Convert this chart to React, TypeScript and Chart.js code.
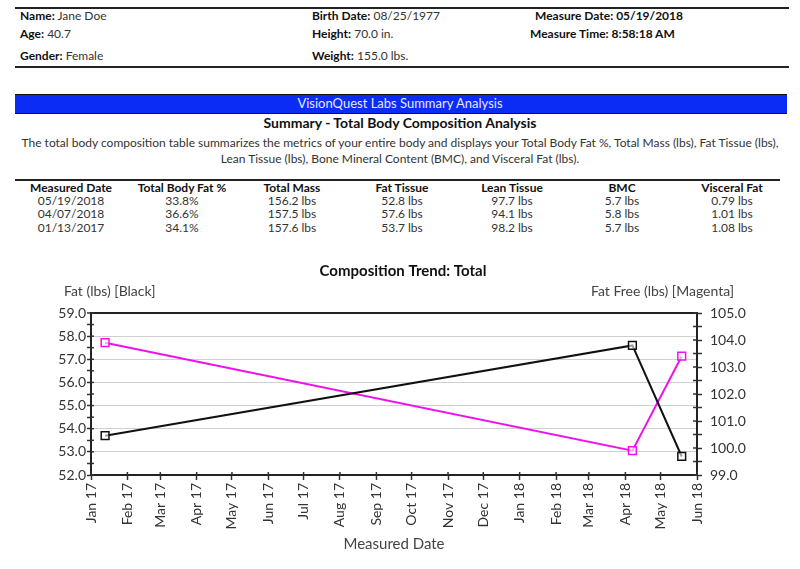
import React, { useEffect, useRef } from 'react';
import { Chart, registerables } from 'chart.js';

Chart.register(...registerables);

const FONT = 'Lato, "Open Sans", sans-serif';

// ---- header info ----
const patientLeft = [
  ['Name:', 'Jane Doe'],
  ['Age:', '40.7'],
  ['Gender:', 'Female'],
];
const patientMid = [
  ['Birth Date:', '08/25/1977'],
  ['Height:', '70.0 in.'],
  ['Weight:', '155.0 lbs.'],
];
const measureInfo = ['Measure Date: 05/19/2018', 'Measure Time: 8:58:18 AM'];

// ---- table data ----
const tableHeaders = ['Measured Date', 'Total Body Fat %', 'Total Mass', 'Fat Tissue', 'Lean Tissue', 'BMC', 'Visceral Fat'];
const tableDates = ['05/19/2018', '04/07/2018', '01/13/2017'];
const totalBodyFat = ['33.8%', '36.6%', '34.1%'];
const totalMass = ['156.2', '157.5', '157.6'];
const fatTissue = ['52.8', '57.6', '53.7'];
const leanTissue = ['97.7', '94.1', '98.2'];
const bmc = ['5.7', '5.8', '5.7'];
const visceralFat = ['0.79', '1.01', '1.08'];

// ---- chart data ----
const measuredDates = ['2017-01-13', '2018-04-07', '2018-05-19'];
const fatLbs = [53.7, 57.6, 52.8];
const fatFreeLbs = [103.9, 99.9, 103.4];
const monthTickDates = [
  '2017-01-01', '2017-02-01', '2017-03-01', '2017-04-01', '2017-05-01', '2017-06-01',
  '2017-07-01', '2017-08-01', '2017-09-01', '2017-10-01', '2017-11-01', '2017-12-01',
  '2018-01-01', '2018-02-01', '2018-03-01', '2018-04-01', '2018-05-01', '2018-06-01',
];
const monthTickLabels = [
  'Jan 17', 'Feb 17', 'Mar 17', 'Apr 17', 'May 17', 'Jun 17', 'Jul 17', 'Aug 17', 'Sep 17',
  'Oct 17', 'Nov 17', 'Dec 17', 'Jan 18', 'Feb 18', 'Mar 18', 'Apr 18', 'May 18', 'Jun 18',
];
const leftAxisRange = [52, 59];
const rightAxisRange = [99, 105];

const ts = (s: string) => Date.parse(s + 'T00:00:00Z');
const tickVals = monthTickDates.map(ts);
const isInt = (v: number) => Math.abs(v - Math.round(v)) < 1e-6;

const colCenters = [71, 182, 292, 402, 512, 622, 732];

function Txt(props: any) {
  const { x, y, w, align, size, bold, color, children } = props;
  const s = size || 12;
  const lh = s + 4;
  let left = x;
  if (align === 'center') left = x - (w || 300) / 2;
  return (
    <div
      style={{
        position: 'absolute',
        left,
        top: y - lh / 2,
        width: align === 'center' ? w || 300 : undefined,
        textAlign: align || 'left',
        fontSize: s,
        lineHeight: lh + 'px',
        fontWeight: bold ? 700 : 400,
        color: color || '#333',
        whiteSpace: 'nowrap',
      }}
    >
      {children}
    </div>
  );
}

const overlayPlugin = {
  id: 'overlay',
  afterDraw(chart: any) {
    const { ctx, chartArea } = chart;
    ctx.save();
    ctx.fillStyle = '#111';
    ctx.textBaseline = 'middle';
    ctx.font = `700 15px ${FONT}`;
    ctx.textAlign = 'center';
    ctx.fillText('Composition Trend: Total', 403, 13);
    ctx.fillStyle = '#444';
    ctx.font = `400 14px ${FONT}`;
    ctx.textAlign = 'left';
    ctx.fillText('Fat (lbs) [Black]', 64, 33);
    ctx.textAlign = 'right';
    ctx.fillText('Fat Free (lbs) [Magenta]', 734, 33);
    // inner tick marks
    ctx.strokeStyle = '#333';
    ctx.lineWidth = 1.5;
    const ys = chart.scales.y;
    ys.ticks.forEach((t: any) => {
      const p = ys.getPixelForValue(t.value);
      ctx.beginPath();
      ctx.moveTo(chartArea.left, p);
      ctx.lineTo(chartArea.left + 3, p);
      ctx.stroke();
    });
    const y1 = chart.scales.y1;
    y1.ticks.forEach((t: any) => {
      const p = y1.getPixelForValue(t.value);
      ctx.beginPath();
      ctx.moveTo(chartArea.right - 4, p);
      ctx.lineTo(chartArea.right, p);
      ctx.stroke();
    });
    const xs = chart.scales.x;
    xs.ticks.forEach((t: any) => {
      const p = xs.getPixelForValue(t.value);
      ctx.beginPath();
      ctx.moveTo(p, chartArea.bottom - 3);
      ctx.lineTo(p, chartArea.bottom);
      ctx.stroke();
    });
    ctx.restore();
  },
};

function TrendChart() {
  const ref = useRef<HTMLCanvasElement | null>(null);
  useEffect(() => {
    if (!ref.current) return;
    const tickFont = { family: FONT, size: 14 };
    const chart = new Chart(ref.current, {
      type: 'line',
      data: {
        datasets: [
          {
            label: 'Fat (lbs)',
            data: measuredDates.map((d, i) => ({ x: ts(d), y: fatLbs[i] })),
            yAxisID: 'y',
            borderColor: '#111',
            borderWidth: 2,
            pointStyle: 'rect',
            pointRadius: 5.5,
            pointBorderWidth: 1.5,
            pointBorderColor: '#111',
            pointBackgroundColor: 'rgba(255,255,255,0.6)',
            tension: 0,
          },
          {
            label: 'Fat Free (lbs)',
            data: measuredDates.map((d, i) => ({ x: ts(d), y: fatFreeLbs[i] })),
            yAxisID: 'y1',
            borderColor: '#ee11ee',
            borderWidth: 2,
            pointStyle: 'rect',
            pointRadius: 5.5,
            pointBorderWidth: 1.5,
            pointBorderColor: '#ee11ee',
            pointBackgroundColor: 'rgba(255,255,255,0.6)',
            tension: 0,
          },
        ],
      } as any,
      options: {
        animation: false,
        responsive: false,
        maintainAspectRatio: false,
        layout: { padding: { top: 55, left: 0, right: 0, bottom: 0 } },
        plugins: {
          legend: { display: false },
          tooltip: { enabled: false },
          title: { display: false },
        },
        scales: {
          x: {
            type: 'linear',
            min: tickVals[0],
            max: tickVals[tickVals.length - 1],
            afterBuildTicks: (s: any) => {
              s.ticks = tickVals.map((v) => ({ value: v }));
            },
            afterFit: (s: any) => {
              s.height = 94;
            },
            ticks: {
              autoSkip: false,
              minRotation: 90,
              maxRotation: 90,
              padding: 3,
              color: '#333',
              font: tickFont,
              callback: (v: any) => {
                const i = tickVals.indexOf(Number(v));
                return i >= 0 ? monthTickLabels[i] : '';
              },
            },
            grid: { drawOnChartArea: false, drawTicks: true, tickLength: 5, tickColor: '#333', tickWidth: 1.5 },
            border: { color: '#222', width: 2 },
            title: {
              display: true,
              text: 'Measured Date',
              color: '#444',
              font: { family: FONT, size: 15 },
              padding: { top: 0, bottom: 16 },
            },
          },
          y: {
            position: 'left',
            min: leftAxisRange[0],
            max: leftAxisRange[1],
            afterFit: (s: any) => {
              s.width = 91;
            },
            ticks: {
              stepSize: 0.5,
              autoSkip: false,
              padding: 1,
              color: '#333',
              font: tickFont,
              callback: (v: any) => (isInt(Number(v)) ? Number(v).toFixed(1) : ''),
            },
            grid: {
              drawTicks: true,
              tickLength: 4,
              tickColor: '#333',
              tickWidth: 1.5,
              color: (c: any) => {
                const v = c.tick ? c.tick.value : 0;
                if (Math.abs(v - leftAxisRange[1]) < 1e-6) return '#222';
                return isInt(v) ? '#cfcfcf' : 'rgba(0,0,0,0)';
              },
              lineWidth: (c: any) => {
                const v = c.tick ? c.tick.value : 0;
                return Math.abs(v - leftAxisRange[1]) < 1e-6 ? 2 : 1;
              },
            },
            border: { color: '#222', width: 2 },
          },
          y1: {
            position: 'right',
            min: rightAxisRange[0],
            max: rightAxisRange[1],
            afterFit: (s: any) => {
              s.width = 103;
            },
            ticks: {
              stepSize: 0.5,
              autoSkip: false,
              padding: 8,
              color: '#333',
              font: tickFont,
              callback: (v: any) => (isInt(Number(v)) ? Number(v).toFixed(1) : ''),
            },
            grid: { drawOnChartArea: false, drawTicks: true, tickLength: 5, tickColor: '#333', tickWidth: 1.5 },
            border: { color: '#222', width: 2 },
          },
        },
      } as any,
      plugins: [overlayPlugin],
    });
    return () => chart.destroy();
  }, []);
  return (
    <canvas
      ref={ref}
      width={800}
      height={311}
      style={{ position: 'absolute', left: 0, top: 258, width: 800, height: 311 }}
    />
  );
}

export default function App() {
  const rows = tableDates.map((d, i) => [
    d,
    totalBodyFat[i],
    totalMass[i] + ' lbs',
    fatTissue[i] + ' lbs',
    leanTissue[i] + ' lbs',
    bmc[i] + ' lbs',
    visceralFat[i] + ' lbs',
  ]);
  const rowY = [201, 214, 228];
  return (
    <div
      style={{
        position: 'absolute',
        left: 0,
        top: 0,
        width: 800,
        height: 569,
        background: '#fff',
        fontFamily: FONT,
        overflow: 'hidden',
      }}
    >
      {/* header lines */}
      <div style={{ position: 'absolute', left: 15, top: 7, width: 774, height: 2, background: '#222' }} />
      <div style={{ position: 'absolute', left: 15, top: 66, width: 774, height: 2, background: '#222' }} />
      {patientLeft.map((p, i) => (
        <Txt key={'l' + i} x={20} y={[16, 34, 56][i]}>
          <b style={{ color: '#111' }}>{p[0]}</b> {p[1]}
        </Txt>
      ))}
      {patientMid.map((p, i) => (
        <Txt key={'m' + i} x={312} y={[16, 34, 56][i]}>
          <b style={{ color: '#111' }}>{p[0]}</b> {p[1]}
        </Txt>
      ))}
      <Txt x={535} y={16} bold color="#111">{measureInfo[0]}</Txt>
      <Txt x={530} y={34} bold color="#111">{measureInfo[1]}</Txt>

      {/* banner */}
      <div
        style={{
          position: 'absolute',
          left: 15,
          top: 94,
          width: 772,
          height: 18,
          background: '#0b2cf4',
          borderTop: '1px solid #111',
          borderBottom: '1px solid #111',
        }}
      />
      <Txt x={400} y={103} align="center" w={600} size={13} color="#e6e8ff">
        VisionQuest Labs Summary Analysis
      </Txt>
      <Txt x={400} y={123} align="center" w={600} size={14} bold color="#111">
        Summary - Total Body Composition Analysis
      </Txt>
      <Txt x={400} y={143} align="center" w={790} size={12} color="#333">
        The total body composition table summarizes the metrics of your entire body and displays your Total Body Fat %, Total Mass (lbs), Fat Tissue (lbs),
      </Txt>
      <Txt x={400} y={159} align="center" w={790} size={12} color="#333">
        Lean Tissue (lbs), Bone Mineral Content (BMC), and Visceral Fat (lbs).
      </Txt>

      {/* table */}
      <div style={{ position: 'absolute', left: 15, top: 179, width: 765, height: 2, background: '#222' }} />
      {tableHeaders.map((h, i) => (
        <Txt key={'h' + i} x={colCenters[i]} y={188} align="center" w={140} size={12} bold color="#111">
          {h}
        </Txt>
      ))}
      {rows.map((r, ri) =>
        r.map((c, ci) => (
          <Txt key={'c' + ri + '-' + ci} x={colCenters[ci]} y={rowY[ri]} align="center" w={140} size={12} color="#333">
            {c}
          </Txt>
        ))
      )}

      <TrendChart />
    </div>
  );
}
